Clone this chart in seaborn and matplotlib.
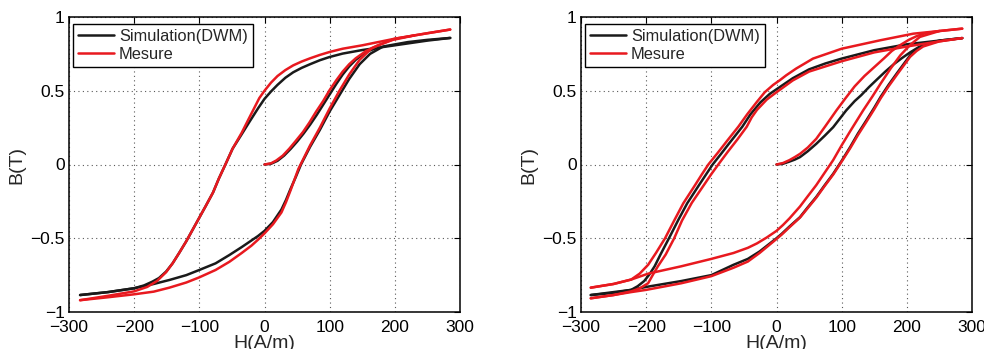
import matplotlib
matplotlib.use('Agg')
import matplotlib.pyplot as plt
import seaborn as sns
import pandas as pd

# ---------------- left panel: H (A/m), B (T) ----------------
left_sim_init_H = [0, 10, 20, 30, 40, 50, 60, 70, 80, 90, 100, 110, 120, 130, 140, 150, 160, 175]
left_sim_init_B = [0, 0.005, 0.025, 0.06, 0.105, 0.155, 0.21, 0.27, 0.335, 0.405, 0.475, 0.545, 0.61, 0.665, 0.71,
                   0.745, 0.77, 0.795]

left_sim_desc_H = [285, 250, 200, 150, 120, 100, 85, 70, 57, 44, 32, 20, 10, 0, -10, -23, -35, -49, -60, -70, -79,
                   -90, -100, -110, -120, -131, -141, -151, -162, -172, -185, -200, -240, -283]
left_sim_desc_B = [0.858, 0.84, 0.808, 0.776, 0.752, 0.729, 0.707, 0.68, 0.655, 0.625, 0.588, 0.54, 0.495, 0.445,
                   0.38, 0.29, 0.205, 0.107, 0.0, -0.095, -0.19, -0.28, -0.36, -0.44, -0.52, -0.60, -0.67, -0.726,
                   -0.77, -0.794, -0.82, -0.839, -0.865, -0.885]

left_sim_asc_H = [-283, -240, -200, -170, -146, -120, -100, -75, -54, -35, -20, -10, 0, 13, 26, 33, 40, 48, 56, 70,
                  85, 100, 115, 130, 146, 162, 182, 220, 250, 285]
left_sim_asc_B = [-0.885, -0.865, -0.839, -0.81, -0.783, -0.75, -0.715, -0.67, -0.614, -0.56, -0.515, -0.485, -0.45,
                  -0.39, -0.305, -0.24, -0.165, -0.085, 0.0, 0.12, 0.235, 0.36, 0.47, 0.58, 0.68, 0.75, 0.80, 0.83,
                  0.845, 0.858]

left_mes_init_H = [0, 10, 18, 28, 38, 48, 59, 69, 79, 90, 100, 110, 120, 130, 140, 156, 175, 197, 230]
left_mes_init_B = [0, 0.008, 0.027, 0.06, 0.107, 0.16, 0.22, 0.285, 0.357, 0.43, 0.505, 0.57, 0.63, 0.68, 0.72,
                   0.77, 0.81, 0.845, 0.875]

left_mes_desc_H = [285, 250, 200, 150, 120, 100, 85, 70, 57, 44, 32, 20, 10, 0, -8, -23, -35, -49, -60, -70, -79,
                   -90, -100, -110, -120, -131, -141, -151, -165, -180, -200, -240, -283]
left_mes_desc_B = [0.915, 0.89, 0.853, 0.808, 0.785, 0.763, 0.743, 0.72, 0.698, 0.672, 0.64, 0.60, 0.555, 0.50,
                   0.45, 0.32, 0.215, 0.107, 0.0, -0.095, -0.19, -0.28, -0.36, -0.44, -0.52, -0.60, -0.67, -0.73,
                   -0.79, -0.83, -0.86, -0.89, -0.92]

left_mes_asc_H = [-283, -240, -200, -170, -146, -120, -100, -75, -54, -35, -20, -10, 0, 13, 26, 33, 40, 52, 70, 85,
                  100, 115, 130, 146, 165, 200, 250, 285]
left_mes_asc_B = [-0.92, -0.90, -0.88, -0.862, -0.835, -0.80, -0.765, -0.715, -0.66, -0.60, -0.55, -0.51, -0.467,
                  -0.405, -0.325, -0.255, -0.175, -0.03, 0.13, 0.25, 0.38, 0.50, 0.61, 0.71, 0.79, 0.853, 0.89,
                  0.915]

# ---------------- right panel ----------------
right_sim_init_H = [0, 10, 20, 28, 36, 48, 61, 74, 87, 97, 107, 120, 130, 142, 155, 167, 180, 192, 205, 218, 230]
right_sim_init_B = [0, 0.005, 0.02, 0.033, 0.05, 0.09, 0.14, 0.195, 0.253, 0.31, 0.367, 0.43, 0.47, 0.525, 0.58,
                    0.63, 0.68, 0.72, 0.76, 0.795, 0.82]

right_sim_desc_H = [285, 250, 200, 150, 100, 75, 50, 25, 0, -10, -25, -40, -52.5, -65, -75, -86, -98, -110, -120,
                    -137, -150, -165, -178, -187, -195, -203, -213, -223, -250, -285]
right_sim_desc_B = [0.857, 0.84, 0.815, 0.775, 0.718, 0.685, 0.645, 0.585, 0.51, 0.48, 0.42, 0.34, 0.256, 0.186,
                    0.13, 0.067, 0.0, -0.08, -0.147, -0.263, -0.37, -0.50, -0.61, -0.69, -0.745, -0.79, -0.825,
                    -0.85, -0.87, -0.885]

right_sim_asc_H = [-285, -250, -223, -200, -146, -100, -66, -44, -26, 0, 8, 20, 36, 48, 61, 74, 87, 100, 113, 125,
                   138, 150, 160, 172, 185, 195, 205, 215, 225, 250, 285]
right_sim_asc_B = [-0.885, -0.865, -0.85, -0.83, -0.79, -0.75, -0.68, -0.64, -0.59, -0.50, -0.47, -0.42, -0.357,
                   -0.29, -0.22, -0.14, -0.063, 0.025, 0.118, 0.21, 0.30, 0.385, 0.46, 0.54, 0.62, 0.68, 0.74,
                   0.78, 0.81, 0.84, 0.857]

right_mes_init_H = [0, 10, 20, 28, 36, 48, 61, 75, 92, 106, 120, 135, 150, 165, 177, 190, 203, 215, 228, 250]
right_mes_init_B = [0, 0.01, 0.03, 0.05, 0.072, 0.115, 0.174, 0.26, 0.367, 0.45, 0.53, 0.60, 0.66, 0.72, 0.77,
                    0.81, 0.845, 0.87, 0.89, 0.905]

right_mes1_desc_H = [285, 250, 210, 159, 100, 56, 30, 15, 5, -5, -18, -30, -45, -58.6, -75, -90, -104.6, -115,
                     -125, -143, -157, -171, -185, -197, -210, -223, -250, -285]
right_mes1_desc_B = [0.921, 0.905, 0.887, 0.842, 0.785, 0.718, 0.65, 0.605, 0.571, 0.54, 0.49, 0.425, 0.34, 0.256,
                     0.165, 0.08, 0.0, -0.07, -0.14, -0.263, -0.38, -0.5, -0.6, -0.68, -0.74, -0.78, -0.81, -0.835]

right_mes1_asc_H = [-285, -250, -223, -197, -146, -100, -66, -44, -30, -15, 0, 10, 20, 36, 48, 61, 74, 87, 100,
                    113, 133, 147, 160, 175, 190, 205, 220, 250, 285]
right_mes1_asc_B = [-0.835, -0.81, -0.78, -0.74, -0.69, -0.64, -0.60, -0.565, -0.535, -0.495, -0.45, -0.41, -0.365,
                    -0.285, -0.215, -0.14, -0.055, 0.03, 0.13, 0.225, 0.367, 0.46, 0.55, 0.65, 0.74, 0.81, 0.865,
                    0.905, 0.921]

right_mes2_desc_H = [285, 250, 200, 150, 100, 50, 25, 0, -15, -30, -38, -45.7, -60, -75, -89.3, -100, -110, -130,
                     -145, -157, -170, -182, -190, -197, -210, -223, -250, -285]
right_mes2_desc_B = [0.857, 0.835, 0.80, 0.76, 0.70, 0.63, 0.57, 0.49, 0.44, 0.37, 0.32, 0.256, 0.17, 0.085, 0.0,
                     -0.065, -0.13, -0.26, -0.38, -0.50, -0.61, -0.69, -0.75, -0.805, -0.84, -0.86, -0.885, -0.907]

right_mes2_asc_H = [-285, -250, -223, -200, -146, -100, -66, -44, -26, 0, 8, 20, 36, 48, 61, 74, 87, 100, 113,
                    125, 138, 150, 160, 172, 185, 195, 205, 215, 225, 250, 285]
right_mes2_asc_B = [-0.907, -0.885, -0.865, -0.85, -0.805, -0.757, -0.70, -0.658, -0.60, -0.505, -0.475, -0.425,
                    -0.36, -0.295, -0.225, -0.145, -0.068, 0.02, 0.11, 0.20, 0.29, 0.375, 0.45, 0.53, 0.61, 0.67,
                    0.73, 0.77, 0.80, 0.835, 0.857]

x_ticks = [-300, -200, -100, 0, 100, 200, 300]
x_tick_labels = ['\u2212300', '\u2212200', '\u2212100', '0', '100', '200', '300']
y_ticks = [-1, -0.5, 0, 0.5, 1]
y_tick_labels = ['\u22121', '\u22120.5', '0', '0.5', '1']

SIM = 'Simulation(DWM)'
MES = 'Mesure'

left_branches = [
    (SIM, left_sim_init_H, left_sim_init_B),
    (SIM, left_sim_desc_H, left_sim_desc_B),
    (SIM, left_sim_asc_H, left_sim_asc_B),
    (MES, left_mes_init_H, left_mes_init_B),
    (MES, left_mes_desc_H, left_mes_desc_B),
    (MES, left_mes_asc_H, left_mes_asc_B),
]
right_branches = [
    (SIM, right_sim_init_H, right_sim_init_B),
    (SIM, right_sim_desc_H, right_sim_desc_B),
    (SIM, right_sim_asc_H, right_sim_asc_B),
    (MES, right_mes_init_H, right_mes_init_B),
    (MES, right_mes1_desc_H, right_mes1_desc_B),
    (MES, right_mes1_asc_H, right_mes1_asc_B),
    (MES, right_mes2_desc_H, right_mes2_desc_B),
    (MES, right_mes2_asc_H, right_mes2_asc_B),
]


def build_frame(branches):
    rows = []
    for seg, (src, H, B) in enumerate(branches):
        for h, b in zip(H, B):
            rows.append((seg, src, h, b))
    return pd.DataFrame(rows, columns=['seg', 'source', 'H', 'B'])


sns.set_theme(style='white')
plt.rcParams['font.family'] = ['Liberation Sans', 'DejaVu Sans']

fig = plt.figure(figsize=(9.84, 3.49), dpi=100)
ax_left = fig.add_axes([69 / 984, 37 / 349, 391 / 984, 295 / 349])
ax_right = fig.add_axes([581 / 984, 37 / 349, 391 / 984, 295 / 349])

palette = {SIM: '#1a1a1a', MES: '#e8191f'}

for ax, branches in [(ax_left, left_branches), (ax_right, right_branches)]:
    df = build_frame(branches)
    sns.lineplot(data=df, x='H', y='B', hue='source', hue_order=[SIM, MES], units='seg',
                 estimator=None, sort=False, palette=palette, linewidth=1.8, ax=ax)
    ax.set_xlim(-300, 300)
    ax.set_ylim(-1, 1)
    ax.set_xticks(x_ticks, x_tick_labels)
    ax.set_yticks(y_ticks, y_tick_labels)
    ax.grid(True, color='0.35', linestyle=(0, (1, 3)), linewidth=0.8)
    ax.tick_params(direction='in', length=4, width=0.8, top=True, right=True,
                   labelsize=12.5, colors='black')
    ax.tick_params(axis='x', pad=5.5)
    ax.tick_params(axis='y', pad=3)
    for sp in ax.spines.values():
        sp.set_color('black')
        sp.set_linewidth(1.1)
    ax.set_xlabel('H(A/m)', fontsize=14, labelpad=0)
    ax.set_ylabel('B(T)', fontsize=14, labelpad=4)
    handles, labels = ax.get_legend_handles_labels()
    leg = ax.legend(handles, labels, loc='upper left', bbox_to_anchor=(4 / 391, 1 - 7 / 295),
                    borderaxespad=0, fontsize=11.8, frameon=True, fancybox=False, framealpha=1,
                    edgecolor='black', handlelength=2.2, handletextpad=0.3, labelspacing=0.2,
                    borderpad=0.3)
    leg.get_frame().set_linewidth(1.0)

fig.savefig('out.png', dpi=100)
